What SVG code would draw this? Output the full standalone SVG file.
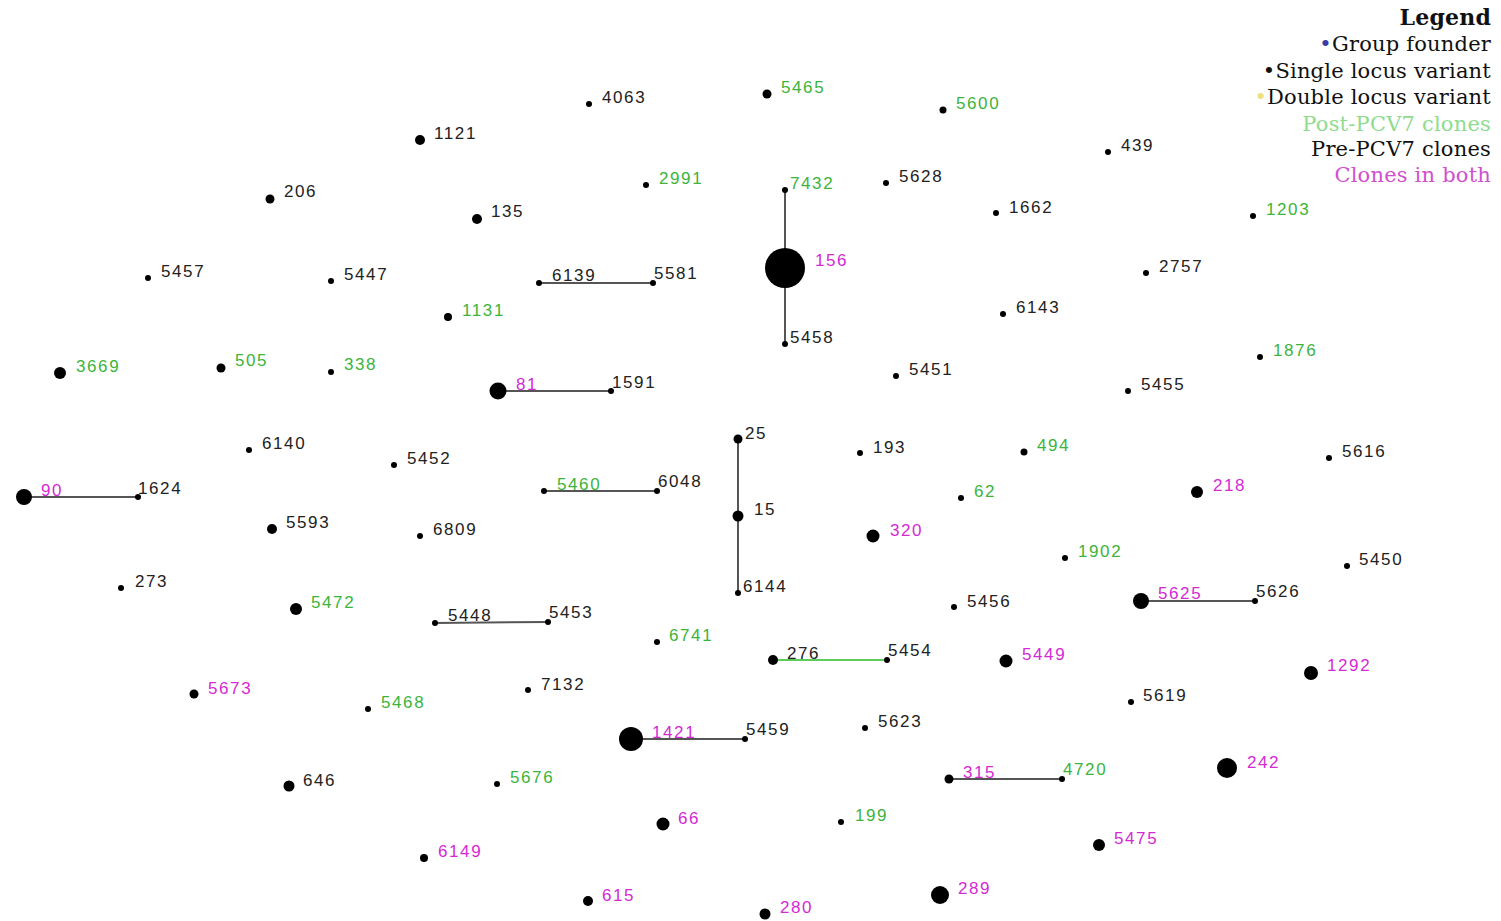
<svg xmlns="http://www.w3.org/2000/svg" width="1501" height="921" viewBox="0 0 1501 921">
<style>
text{font-family:"Liberation Sans",Arial,sans-serif;font-size:17px;letter-spacing:1.6px}
.k{fill:#222}.g{fill:#3cb43c}.m{fill:#d42ad4}
circle{fill:#000}
.e{stroke:#555;stroke-width:2;fill:none}
.eg{stroke:#5ccc5c;stroke-width:2;fill:none}
.lg text{font-family:"DejaVu Serif","Liberation Serif",serif;font-size:21px;letter-spacing:0.2px;text-anchor:end}
</style>
<rect width="1501" height="921" fill="#fff"/>
<g id="connectors">
<line class="e" x1="539" y1="283" x2="653" y2="283"/>
<line class="e" x1="785" y1="190" x2="785" y2="344"/>
<line class="e" x1="498" y1="391" x2="611" y2="391"/>
<line class="e" x1="738" y1="439" x2="738" y2="593"/>
<line class="e" x1="24" y1="497" x2="138" y2="497"/>
<line class="e" x1="544" y1="491" x2="657" y2="491"/>
<line class="e" x1="435" y1="623" x2="548" y2="622"/>
<line class="e" x1="1141" y1="601" x2="1255" y2="601"/>
<line class="eg" x1="773" y1="660" x2="887" y2="660"/>
<line class="e" x1="631" y1="739" x2="745" y2="739"/>
<line class="e" x1="949" y1="779" x2="1062" y2="779"/>
</g>
<g id="n4063"><circle cx="589" cy="104" r="3"/><text class="k" x="602" y="103">4063</text></g>
<g id="n5465"><circle cx="767" cy="94" r="4.5"/><text class="g" x="781" y="93">5465</text></g>
<g id="n5600"><circle cx="943" cy="110" r="3.5"/><text class="g" x="956" y="109">5600</text></g>
<g id="n1121"><circle cx="420" cy="140" r="5"/><text class="k" x="434" y="139">1121</text></g>
<g id="n439"><circle cx="1108" cy="152" r="3"/><text class="k" x="1121" y="151">439</text></g>
<g id="n206"><circle cx="270" cy="199" r="4.5"/><text class="k" x="284" y="197">206</text></g>
<g id="n2991"><circle cx="646" cy="185" r="3"/><text class="g" x="659" y="184">2991</text></g>
<g id="n7432"><circle cx="785" cy="190" r="3"/><text class="g" x="790" y="189">7432</text></g>
<g id="n5628"><circle cx="886" cy="183" r="3"/><text class="k" x="899" y="182">5628</text></g>
<g id="n1662"><circle cx="996" cy="213" r="3"/><text class="k" x="1009" y="213">1662</text></g>
<g id="n135"><circle cx="477" cy="219" r="5"/><text class="k" x="491" y="217">135</text></g>
<g id="n1203"><circle cx="1253" cy="216" r="3"/><text class="g" x="1266" y="215">1203</text></g>
<g id="n5457"><circle cx="148" cy="278" r="3"/><text class="k" x="161" y="277">5457</text></g>
<g id="n5447"><circle cx="331" cy="281" r="3"/><text class="k" x="344" y="280">5447</text></g>
<g id="n6139"><circle cx="539" cy="283" r="3"/><text class="k" x="552" y="281">6139</text></g>
<g id="n5581"><circle cx="653" cy="283" r="3"/><text class="k" x="654" y="279">5581</text></g>
<g id="n156"><circle cx="785" cy="268" r="20"/><text class="m" x="815" y="266">156</text></g>
<g id="n2757"><circle cx="1146" cy="273" r="3"/><text class="k" x="1159" y="272">2757</text></g>
<g id="n6143"><circle cx="1003" cy="314" r="3"/><text class="k" x="1016" y="313">6143</text></g>
<g id="n1131"><circle cx="448" cy="317" r="4"/><text class="g" x="462" y="316">1131</text></g>
<g id="n5458"><circle cx="785" cy="344" r="3"/><text class="k" x="790" y="343">5458</text></g>
<g id="n1876"><circle cx="1260" cy="357" r="3"/><text class="g" x="1273" y="356">1876</text></g>
<g id="n3669"><circle cx="60" cy="373" r="6"/><text class="g" x="76" y="372">3669</text></g>
<g id="n505"><circle cx="221" cy="368" r="4.5"/><text class="g" x="235" y="366">505</text></g>
<g id="n338"><circle cx="331" cy="372" r="3"/><text class="g" x="344" y="370">338</text></g>
<g id="n81"><circle cx="498" cy="391" r="8.5"/><text class="m" x="516" y="390">81</text></g>
<g id="n1591"><circle cx="611" cy="391" r="3"/><text class="k" x="612" y="388">1591</text></g>
<g id="n5451"><circle cx="896" cy="376" r="3"/><text class="k" x="909" y="375">5451</text></g>
<g id="n5455"><circle cx="1128" cy="391" r="3"/><text class="k" x="1141" y="390">5455</text></g>
<g id="n6140"><circle cx="249" cy="450" r="3"/><text class="k" x="262" y="449">6140</text></g>
<g id="n5452"><circle cx="394" cy="465" r="3"/><text class="k" x="407" y="464">5452</text></g>
<g id="n25"><circle cx="738" cy="439" r="4.5"/><text class="k" x="745" y="439">25</text></g>
<g id="n15"><circle cx="738" cy="516" r="5.5"/><text class="k" x="754" y="515">15</text></g>
<g id="n6144"><circle cx="738" cy="593" r="3"/><text class="k" x="743" y="592">6144</text></g>
<g id="n193"><circle cx="860" cy="453" r="3"/><text class="k" x="873" y="453">193</text></g>
<g id="n494"><circle cx="1024" cy="452" r="3.5"/><text class="g" x="1037" y="451">494</text></g>
<g id="n5616"><circle cx="1329" cy="458" r="3"/><text class="k" x="1342" y="457">5616</text></g>
<g id="n90"><circle cx="24" cy="497" r="8"/><text class="m" x="41" y="496">90</text></g>
<g id="n1624"><circle cx="138" cy="497" r="3"/><text class="k" x="138" y="494">1624</text></g>
<g id="n5460"><circle cx="544" cy="491" r="3"/><text class="g" x="557" y="490">5460</text></g>
<g id="n6048"><circle cx="657" cy="491" r="3"/><text class="k" x="658" y="487">6048</text></g>
<g id="n62"><circle cx="961" cy="498" r="3"/><text class="g" x="974" y="497">62</text></g>
<g id="n218"><circle cx="1197" cy="492" r="6"/><text class="m" x="1213" y="491">218</text></g>
<g id="n5593"><circle cx="272" cy="529" r="5"/><text class="k" x="286" y="528">5593</text></g>
<g id="n6809"><circle cx="420" cy="536" r="3"/><text class="k" x="433" y="535">6809</text></g>
<g id="n320"><circle cx="873" cy="536" r="6.5"/><text class="m" x="890" y="536">320</text></g>
<g id="n1902"><circle cx="1065" cy="558" r="3"/><text class="g" x="1078" y="557">1902</text></g>
<g id="n5450"><circle cx="1347" cy="566" r="3"/><text class="k" x="1359" y="565">5450</text></g>
<g id="n273"><circle cx="121" cy="588" r="3"/><text class="k" x="135" y="587">273</text></g>
<g id="n5472"><circle cx="296" cy="609" r="6"/><text class="g" x="311" y="608">5472</text></g>
<g id="n5448"><circle cx="435" cy="623" r="3"/><text class="k" x="448" y="621">5448</text></g>
<g id="n5453"><circle cx="548" cy="622" r="3"/><text class="k" x="549" y="618">5453</text></g>
<g id="n5456"><circle cx="954" cy="607" r="3"/><text class="k" x="967" y="607">5456</text></g>
<g id="n5625"><circle cx="1141" cy="601" r="8"/><text class="m" x="1158" y="599">5625</text></g>
<g id="n5626"><circle cx="1255" cy="601" r="3"/><text class="k" x="1256" y="597">5626</text></g>
<g id="n6741"><circle cx="657" cy="642" r="3"/><text class="g" x="669" y="641">6741</text></g>
<g id="n276"><circle cx="773" cy="660" r="5"/><text class="k" x="787" y="659">276</text></g>
<g id="n5454"><circle cx="887" cy="660" r="3"/><text class="k" x="888" y="656">5454</text></g>
<g id="n5449"><circle cx="1006" cy="661" r="6.5"/><text class="m" x="1022" y="660">5449</text></g>
<g id="n1292"><circle cx="1311" cy="673" r="7"/><text class="m" x="1327" y="671">1292</text></g>
<g id="n5673"><circle cx="194" cy="694" r="4.5"/><text class="m" x="208" y="694">5673</text></g>
<g id="n5468"><circle cx="368" cy="709" r="3"/><text class="g" x="381" y="708">5468</text></g>
<g id="n7132"><circle cx="528" cy="690" r="3"/><text class="k" x="541" y="690">7132</text></g>
<g id="n5619"><circle cx="1131" cy="702" r="3"/><text class="k" x="1143" y="701">5619</text></g>
<g id="n1421"><circle cx="631" cy="739" r="12"/><text class="m" x="652" y="738">1421</text></g>
<g id="n5459"><circle cx="745" cy="739" r="3"/><text class="k" x="746" y="735">5459</text></g>
<g id="n5623"><circle cx="865" cy="728" r="3"/><text class="k" x="878" y="727">5623</text></g>
<g id="n646"><circle cx="289" cy="786" r="5.5"/><text class="k" x="303" y="786">646</text></g>
<g id="n5676"><circle cx="497" cy="784" r="3"/><text class="g" x="510" y="783">5676</text></g>
<g id="n315"><circle cx="949" cy="779" r="4.5"/><text class="m" x="963" y="778">315</text></g>
<g id="n4720"><circle cx="1062" cy="779" r="3"/><text class="g" x="1063" y="775">4720</text></g>
<g id="n242"><circle cx="1227" cy="768" r="10"/><text class="m" x="1247" y="768">242</text></g>
<g id="n66"><circle cx="663" cy="824" r="6.5"/><text class="m" x="678" y="824">66</text></g>
<g id="n199"><circle cx="841" cy="822" r="3"/><text class="g" x="855" y="821">199</text></g>
<g id="n5475"><circle cx="1099" cy="845" r="6"/><text class="m" x="1114" y="844">5475</text></g>
<g id="n6149"><circle cx="424" cy="858" r="4"/><text class="m" x="438" y="857">6149</text></g>
<g id="n615"><circle cx="588" cy="901" r="5"/><text class="m" x="602" y="901">615</text></g>
<g id="n280"><circle cx="765" cy="914" r="5.5"/><text class="m" x="780" y="913">280</text></g>
<g id="n289"><circle cx="940" cy="895" r="9"/><text class="m" x="958" y="894">289</text></g>
<g id="legend" class="lg">
<text x="1491" y="25" style="font-weight:bold;font-size:22px" fill="#111">Legend</text>
<text x="1491" y="51" fill="#111"><tspan fill="#3a3aa8">•</tspan>Group founder</text>
<text x="1491" y="78" fill="#111"><tspan fill="#111">•</tspan>Single locus variant</text>
<text x="1491" y="104" fill="#111"><tspan fill="#eee080">•</tspan>Double locus variant</text>
<text x="1491" y="131" fill="#8fdc8f">Post-PCV7 clones</text>
<text x="1491" y="156" fill="#111">Pre-PCV7 clones</text>
<text x="1491" y="182" fill="#d050d0">Clones in both</text>
</g>
</svg>
